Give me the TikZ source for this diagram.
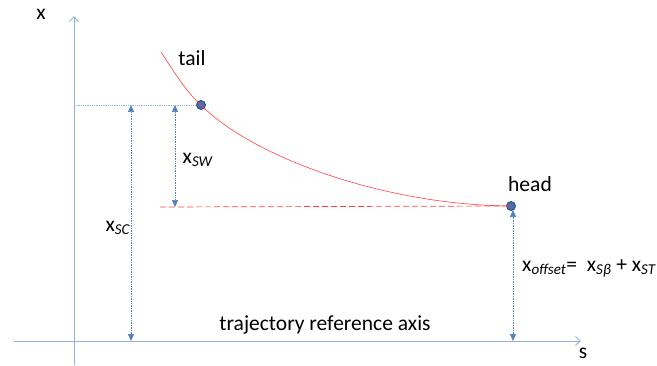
\documentclass[tikz,border=0pt]{standalone}
\usepackage{fontspec}
\setmainfont{Carlito}
\usetikzlibrary{arrows.meta, positioning}
\definecolor{mAxis}{HTML}{95B3D7}
\definecolor{mBlue}{HTML}{4F81BD}
\definecolor{mDark}{HTML}{2F5283}
\definecolor{mDot}{HTML}{4470AC}
\definecolor{mRed}{HTML}{FF4040}
\tikzset{
  axisline/.style={mAxis, line width=0.9pt, -{Straight Barb[length=5pt, width=9pt]}},
  dimline/.style={mBlue, densely dotted, line width=0.7pt,
                  {Triangle[length=7pt, width=6pt]}-{Triangle[length=7pt, width=6pt]}},
  guide/.style={mAxis, densely dotted, line width=0.8pt},
  endpt/.style={draw=mDark, fill=mDot, circle, line width=0.9pt, minimum size=9pt, inner sep=0pt},
  lbl/.style={font=\fontsize{21.5}{25}\selectfont, inner sep=1pt},
}

\begin{document}
\begin{tikzpicture}[x=1pt, y=1pt]
    \useasboundingbox (0,0) rectangle (657,365);
    % axes
    \coordinate (xbot) at (74,0);
    \coordinate (xtop) at (74,349);
    \coordinate (sleft) at (14,24);
    \coordinate (sright) at (581,24);
    \draw[axisline] (xbot) -- (xtop);
    \draw[axisline] (sleft) -- (sright);
    \node[lbl] (xlab) at (41,351) {x};
    \node[lbl] (slab) at (583,12) {s};
    \node[lbl] (axlab) at (325,40) {trajectory reference axis};
    % trajectory
    \coordinate (start) at (161,313);
    \node[endpt] (tail) at (201,260) {};
    \node[endpt] (head) at (511,159) {};
    \draw[mRed, line width=0.6pt] (start) .. controls (176,290) and (188,271) .. (tail.center)
      .. controls (250,210) and (380,160) .. (head.center);
    \node[lbl] (taillab) at (192,307) {tail};
    \node[lbl] (headlab) at (530,181) {head};
    % reference lines
    \coordinate (g0) at (74,260);
    \draw[guide] (g0) -- (tail);
    \coordinate (r0) at (160,158);
    \draw[mRed, dash pattern=on 6pt off 3pt, line width=0.7pt] (r0) -- (head.center);
    % dimensions
    \coordinate (sc0) at (131,24);
    \coordinate (sc1) at (131,260);
    \coordinate (sw0) at (175,260);
    \coordinate (sw1) at (175,158);
    \coordinate (of0) at (513,24);
    \coordinate (of1) at (513,155);
    \draw[dimline] (sc0) -- (sc1);
    \draw[dimline] (sw0) -- (sw1);
    \draw[dimline] (of0) -- (of1);
    \node[lbl] (sclab) at (118,137) {x\textsubscript{\textit{SC}}};
    \node[lbl] (swlab) at (198,205) {x\textsubscript{\textit{SW}}};
    \node[lbl, right] (oflab) at (521,97)
      {x\textsubscript{\textit{offset}}=\ \ x\textsubscript{\textit{Sβ}} + x\textsubscript{\textit{ST}}};
\end{tikzpicture}
\end{document}
